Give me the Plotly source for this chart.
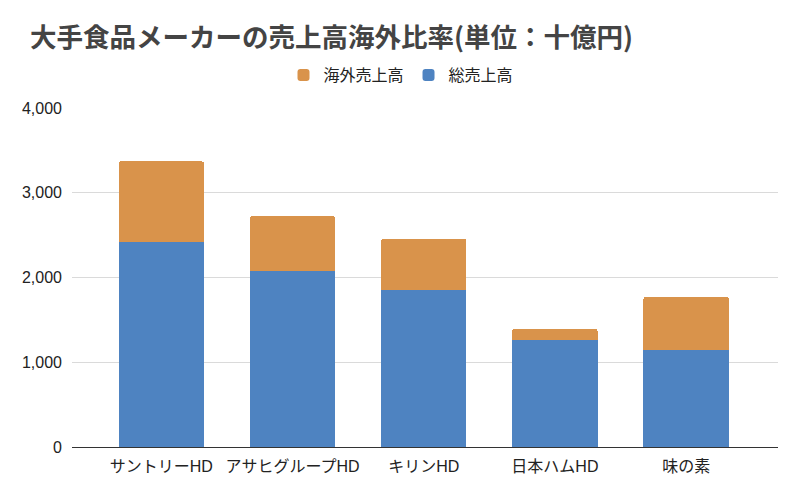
import plotly.graph_objects as go

categories = ["サントリーHD", "アサヒグループHD", "キリンHD", "日本ハムHD", "味の素"]
domestic_base = [2418, 2075, 1850, 1266, 1140]   # 総売上高 (blue, lower segment)
overseas = [951, 647, 603, 127, 632]              # 海外売上高 (orange, upper segment)
y_ticks = [0, 1000, 2000, 3000, 4000]
y_tick_labels = ["0", "1,000", "2,000", "3,000", "4,000"]

FONT = "Liberation Sans, Arial, Noto Sans CJK JP, sans-serif"
BLUE = "#4E83C1"
ORANGE = "#D9934B"

# the page body has an 8px margin, so the figure is drawn at (8, 8)
W, H = 792, 488
OFF = 8

fig = go.Figure()
fig.add_trace(go.Bar(x=categories, y=domestic_base, name="総売上高",
                     marker=dict(color=BLUE, line=dict(width=0))))
fig.add_trace(go.Bar(x=categories, y=overseas, name="海外売上高",
                     marker=dict(color=ORANGE, line=dict(width=0))))

fig.update_layout(
    width=W, height=H,
    barmode="stack",
    bargap=0.35,
    barcornerradius=2,
    plot_bgcolor="white",
    paper_bgcolor="white",
    font=dict(family=FONT, size=16, color="#222222"),
    margin=dict(l=72 - OFF, r=800 - 778, t=108 - OFF, b=496 - 447, autoexpand=False),
    title=dict(text="<b>大手食品メーカーの売上高海外比率(単位：十億円)</b>",
               x=(30 - OFF) / W, xanchor="left", xref="container",
               y=1 - (38 - OFF) / H, yanchor="middle", yref="container",
               font=dict(family="Noto Sans CJK JP, sans-serif", size=26.5, color="#444444")),
    legend=dict(orientation="h", x=(401 - OFF) / W, xanchor="center", xref="container",
                y=1 - (75 - OFF) / H, yanchor="middle", yref="container",
                traceorder="reversed", font=dict(size=16, color="#222222")),
    showlegend=True,
)
fig.update_xaxes(range=[-0.68, 4.7], showgrid=False, showline=True, linecolor="#333333",
                 linewidth=1, ticks="", ticklabelstandoff=5,
                 tickfont=dict(size=16, color="#222222"))
fig.update_yaxes(range=[0, 4000], tickvals=y_ticks, ticktext=y_tick_labels,
                 showgrid=True, gridcolor="#DADADA", gridwidth=1, zeroline=False,
                 ticks="", ticklabelstandoff=9, tickfont=dict(size=16, color="#222222"))

fig.write_html("out.html")
